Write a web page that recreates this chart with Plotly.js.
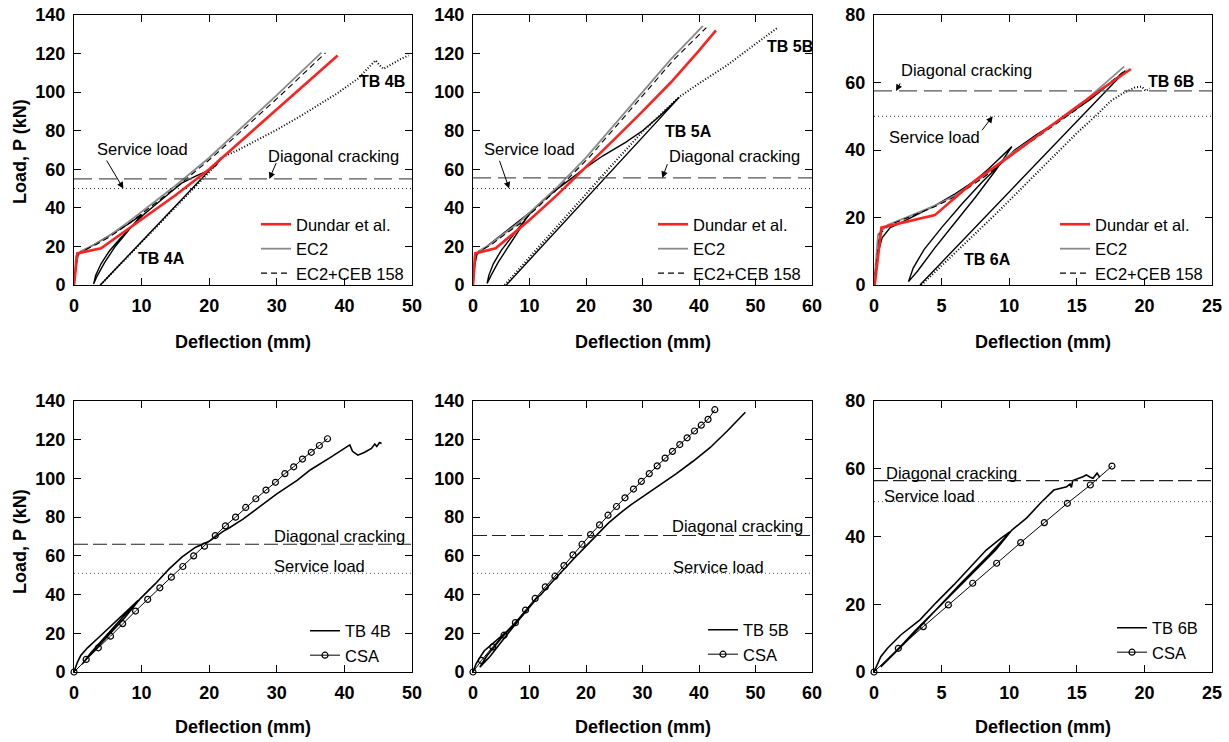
<!DOCTYPE html>
<html>
<head>
<meta charset="utf-8">
<script src="https://cdn.plot.ly/plotly-3.0.1.min.js"></script>
<style>html,body{margin:0;padding:0;background:#fff;}#chart{width:1229px;height:742px;}</style>
</head>
<body>
<div id="chart"></div>
<script>
// ---------- Panel 1 : TB 4 (x 0-50, y 0-140) ----------
const p1_dundar_x = [0, 0.5, 4, 10, 15, 20, 25, 30, 35, 39];
const p1_dundar_y = [0, 16.4, 19, 34, 46.5, 60, 75.5, 91, 106.5, 119];
const p1_ec2_x = [0, 0.3, 1, 3, 5, 8, 10, 15, 20, 25, 30, 36.6];
const p1_ec2_y = [0, 15, 17.5, 21, 25, 32.5, 38, 51.5, 66, 82, 98.5, 120.5];
const p1_ceb_x = [0, 0.4, 1.2, 3.3, 5.3, 8.4, 10.4, 15.4, 20.4, 25.5, 30.6, 37.2];
const p1_ceb_y = [0, 15, 17.5, 21, 25, 32.5, 38, 51.5, 66, 82, 98.5, 120.3];
const p1_tbA_x = [0, 0.3, 0.6, 2, 4, 6, 8, 10, 8, 6, 4.5, 3.4, 2.9, 3.2, 4, 5.2, 6.8, 8.5, 10.3, 12, 14, 16, 18, 20, 21, 21.8, 3.9];
const p1_tbA_y = [0, 10, 16, 19, 23, 27.5, 31.5, 36.5, 28, 19.5, 11.5, 4.5, 0.5, 5, 11, 17.5, 24, 30, 36.5, 41.5, 47.5, 53, 56.5, 59.5, 62, 66, 0];
const p1_tbB_x = [3.9, 8, 12, 16, 20, 21.8, 24, 27, 30, 33, 36, 39, 42, 44.6, 45.2, 45.8, 47, 48.5, 49.5];
const p1_tbB_y = [0, 15, 29.5, 44, 58.5, 66, 69.5, 75, 80.5, 86.5, 93, 99.5, 107, 116.5, 114, 112, 114.5, 117.5, 119];

// ---------- Panel 2 : TB 5 (x 0-60, y 0-140) ----------
const p2_dundar_x = [0, 0.4, 4, 10, 15, 20, 25, 30, 35, 40, 43];
const p2_dundar_y = [0, 16.4, 19, 33.7, 47, 61, 75.5, 90, 105, 121.5, 132];
const p2_ec2_x = [0, 0.3, 1, 3, 5, 8, 10, 15, 20, 25, 30, 35, 40.7];
const p2_ec2_y = [0, 15, 17.5, 21, 25.5, 32, 37.5, 51, 66, 83, 100, 117, 134.3];
const p2_ceb_x = [0, 0.4, 1.2, 3.3, 5.3, 8.4, 10.4, 15.4, 20.5, 25.5, 30.6, 35.6, 41.3];
const p2_ceb_y = [0, 15, 17.5, 21, 25.5, 32, 37.5, 51, 66, 83, 100, 117, 133.5];
const p2_tbA_x = [0, 0.3, 0.7, 2, 4, 6, 8, 10, 8.5, 6.5, 4.5, 3.2, 2.5, 2.8, 3.6, 5, 6.8, 8.6, 10.5, 12.5, 15, 17.5, 20, 23, 27, 30, 33, 36.5, 5.9];
const p2_tbA_y = [0, 10, 16, 19, 23.5, 28, 32.5, 37.5, 30, 21, 12, 5, 0.8, 5, 11, 18, 25, 31.5, 38.5, 44, 50, 55.5, 61, 67, 74, 80, 87.5, 97.3, 0];
const p2_tbB_x = [5.6, 10, 15, 20, 25, 30, 36.5, 40, 45, 50, 54];
const p2_tbB_y = [0, 14.5, 31, 47.5, 63.5, 79.5, 97.5, 104.5, 114, 125, 133.6];

// ---------- Panel 3 : TB 6 (x 0-25, y 0-80) ----------
const p3_dundar_x = [0.05, 0.55, 4.5, 7.5, 10, 12.5, 15, 17, 19];
const p3_dundar_y = [0, 17, 20.7, 31, 38, 45.5, 52.8, 58.5, 64];
const p3_ec2_x = [0, 0.3, 1, 2, 3, 4.5, 6, 8, 10, 12, 15, 18.5];
const p3_ec2_y = [0, 15, 17.8, 19.5, 21, 23.5, 26.5, 32, 38.5, 44, 52.5, 64.7];
const p3_ceb_x = [0, 0.4, 1.15, 2.15, 3.15, 4.65, 6.15, 8.15, 10.15, 12.15, 15.15, 18.7];
const p3_ceb_y = [0, 15, 17.8, 19.5, 21, 23.5, 26.5, 32, 38.5, 44, 52.5, 64];
const p3_tbA_x = [0, 0.2, 0.6, 1.2, 2, 3, 4.5, 6, 7.5, 8.5, 9.3, 10.2, 9, 7.5, 6, 4.5, 3.2, 2.55, 2.9, 3.7, 5, 6.5, 8, 9.5, 10.4, 12, 14, 16, 17.5, 18.6, 3.4];
const p3_tbA_y = [0, 8, 14, 17, 18.5, 20.5, 23.5, 27, 31, 34.5, 37.5, 41, 34, 26, 18.5, 11, 4, 1, 5, 10.5, 17, 24, 30.5, 36.5, 40, 44.5, 49.5, 55, 60, 63.5, 0];
const p3_tbB_x = [3.5, 6, 9, 12, 15, 16.5, 17.5, 18.5, 19.3, 19.8, 20.1, 20.4];
const p3_tbB_y = [0, 9.5, 21, 33, 45, 50.5, 54.5, 57, 58.5, 58.8, 57.5, 58.2];

// ---------- Panel 4 : TB 4B vs CSA (x 0-50, y 0-140) ----------
const p4_tb_x = [0, 0.5, 1, 2, 4, 6, 8, 9.5, 7, 4.5, 2.5, 1.2, 2, 3.5, 5.5, 7.5, 9.7, 12, 14, 16, 18, 19, 20, 22, 23, 25, 28, 30, 33, 35, 38, 40, 40.8, 41.2, 42, 43, 44, 44.5, 44.8, 45.2, 45.5];
const p4_tb_y = [0, 5, 8.5, 12.5, 19, 25.5, 32, 37, 27.5, 18, 10, 4, 7.5, 13, 20.5, 28, 37.5, 45.5, 53, 59.5, 64.5, 66, 67.5, 72.5, 74.5, 79, 87, 92, 99, 104.5, 111, 115.5, 117.3, 114, 112, 113.5, 115.5, 117.8, 116.5, 118.5, 118];
const p4_csa_x = [0, 1.8, 3.6, 5.4, 7.2, 9.1, 10.9, 12.7, 14.4, 16.1, 17.7, 19.3, 20.9, 22.4, 23.9, 25.4, 26.9, 28.4, 29.8, 31.2, 32.5, 33.8, 35.1, 36.3, 37.5];
const p4_csa_y = [0, 6.5, 12.5, 18.5, 25, 31.5, 37.5, 43.5, 49, 54.5, 60, 65, 70.5, 75.5, 80, 85, 89.5, 94, 98, 102.5, 106, 110, 113.5, 117, 120.5];

// ---------- Panel 5 : TB 5B vs CSA (x 0-60, y 0-140) ----------
const p5_tb_x = [0, 0.5, 1, 2, 4, 6, 8, 11, 8, 5, 3, 1.2, 2.5, 5, 7.5, 9.5, 11.2, 12, 14, 16, 18, 20, 22, 24, 26, 28, 30, 33, 36, 39, 42, 45, 48.2];
const p5_tb_y = [0, 4, 6.5, 11, 16, 21, 27, 37, 26.5, 15.5, 8, 2.5, 8.5, 17.5, 25.5, 32, 38, 40, 46.5, 53, 59, 65, 71, 77, 82, 86.5, 90.5, 96.5, 102.5, 109, 116, 124.5, 134.2];
const p5_csa_x = [0, 1.5, 3.5, 5.5, 7.5, 9.3, 11.0, 12.8, 14.5, 16.1, 17.7, 19.3, 20.8, 22.4, 23.9, 25.4, 26.9, 28.4, 29.8, 31.2, 32.6, 34.0, 35.3, 36.6, 37.9, 39.2, 40.4, 41.6, 42.8];
const p5_csa_y = [0, 6, 13, 19, 25.5, 32, 38, 44, 49.5, 55, 60.5, 66, 71, 76, 81, 85.5, 90, 94.5, 98.5, 102.5, 106.5, 110.5, 114, 117.5, 121, 124.5, 127.5, 130.5, 135.5];

// ---------- Panel 6 : TB 6B vs CSA (x 0-25, y 0-80) ----------
const p6_tb_x = [0, 0.5, 1, 2, 3.4, 4.6, 5.9, 7.1, 8.3, 9.4, 10.1, 8.5, 6.5, 4.5, 2.5, 1, 0.5, 1.5, 3, 5, 7, 9, 10.2, 11.3, 12.3, 13.3, 14.25, 14.5, 14.6, 14.7, 15.5, 15.7, 16, 16.2, 16.5, 16.7];
const p6_tb_y = [0, 4.5, 7, 11, 15.4, 20.5, 25.7, 31, 36, 39.5, 41.5, 34.5, 26.5, 18, 9.5, 3.5, 1.5, 5.5, 12, 20, 28, 36, 41.9, 45.5, 49.8, 53.7, 54.7, 55.5, 54.5, 56.5, 57.7, 58.2, 57.5, 57.2, 58.7, 57.5];
const p6_csa_x = [0, 1.8, 3.65, 5.5, 7.3, 9.07, 10.85, 12.6, 14.3, 16.0, 17.6];
const p6_csa_y = [0, 7, 13.4, 19.8, 26.2, 32.1, 38.2, 44.1, 49.8, 55.2, 60.8];

// ---------- reference load levels [diagonal cracking, service load] ----------
const refDiagonal = [55, 55.5, 57.5, 66, 70.5, 56.5];
const refService = [50, 50, 50, 51, 51, 50.3];

// ---------- axis settings ----------
const xRanges = [[0, 50], [0, 60], [0, 25], [0, 50], [0, 60], [0, 25]];
const yRanges = [[0, 140], [0, 140], [0, 80], [0, 140], [0, 140], [0, 80]];
const xTickStep = [10, 10, 5, 10, 10, 5];
const yTickStep = [20, 20, 20, 20, 20, 20];

const FONT = 'Liberation Sans, Arial, Helvetica, sans-serif';
const RED = '#ff2020', GREY = '#8a8a8a';

const traces = [];
function add(t) { traces.push(t); }
const sfx = ['', '2', '3', '4', '5', '6'];

function topPanel(i, d) {
  const xa = 'x' + sfx[i], ya = 'y' + sfx[i], lg = 'legend' + sfx[i];
  add({x: d.tbAx, y: d.tbAy, xaxis: xa, yaxis: ya, mode: 'lines', line: {color: '#000', width: 1.4}, showlegend: false, hoverinfo: 'skip'});
  add({x: d.tbBx, y: d.tbBy, xaxis: xa, yaxis: ya, mode: 'lines', line: {color: '#000', width: 2, dash: '1px,2px'}, showlegend: false, hoverinfo: 'skip'});
  add({x: d.ec2x, y: d.ec2y, xaxis: xa, yaxis: ya, mode: 'lines', name: 'EC2', legend: lg, legendrank: 2, line: {color: GREY, width: 1.8}});
  add({x: d.cebx, y: d.ceby, xaxis: xa, yaxis: ya, mode: 'lines', name: 'EC2+CEB 158', legend: lg, legendrank: 3, line: {color: '#000', width: 1.1, dash: '6px,4px'}});
  add({x: d.dx, y: d.dy, xaxis: xa, yaxis: ya, mode: 'lines', name: 'Dundar et al.', legend: lg, legendrank: 1, line: {color: RED, width: 2.6}});
}
topPanel(0, {dx: p1_dundar_x, dy: p1_dundar_y, ec2x: p1_ec2_x, ec2y: p1_ec2_y, cebx: p1_ceb_x, ceby: p1_ceb_y, tbAx: p1_tbA_x, tbAy: p1_tbA_y, tbBx: p1_tbB_x, tbBy: p1_tbB_y});
topPanel(1, {dx: p2_dundar_x, dy: p2_dundar_y, ec2x: p2_ec2_x, ec2y: p2_ec2_y, cebx: p2_ceb_x, ceby: p2_ceb_y, tbAx: p2_tbA_x, tbAy: p2_tbA_y, tbBx: p2_tbB_x, tbBy: p2_tbB_y});
topPanel(2, {dx: p3_dundar_x, dy: p3_dundar_y, ec2x: p3_ec2_x, ec2y: p3_ec2_y, cebx: p3_ceb_x, ceby: p3_ceb_y, tbAx: p3_tbA_x, tbAy: p3_tbA_y, tbBx: p3_tbB_x, tbBy: p3_tbB_y});

function bottomPanel(i, name, tx, ty, cx, cy) {
  const xa = 'x' + sfx[i], ya = 'y' + sfx[i], lg = 'legend' + sfx[i];
  add({x: tx, y: ty, xaxis: xa, yaxis: ya, mode: 'lines', name: name, legend: lg, legendrank: 1, line: {color: '#000', width: 1.6}});
  add({x: cx, y: cy, xaxis: xa, yaxis: ya, mode: 'lines+markers', name: 'CSA', legend: lg, legendrank: 2, cliponaxis: false,
       line: {color: '#000', width: 1}, marker: {symbol: 'circle-open', size: 6, color: '#000', line: {width: 1.2, color: '#000'}}});
}
bottomPanel(3, 'TB 4B', p4_tb_x, p4_tb_y, p4_csa_x, p4_csa_y);
bottomPanel(4, 'TB 5B', p5_tb_x, p5_tb_y, p5_csa_x, p5_csa_y);
bottomPanel(5, 'TB 6B', p6_tb_x, p6_tb_y, p6_csa_x, p6_csa_y);

// ---------- layout ----------
const W = 1229, H = 742;
const colDom = [[74 / W, 412 / W], [473 / W, 812 / W], [874 / W, 1212 / W]];
const rowDom = [[1 - 285 / H, 1 - 15 / H], [1 - 672 / H, 1 - 401 / H]];

const layout = {
  width: W, height: H,
  margin: {l: 0, r: 0, t: 0, b: 0},
  paper_bgcolor: '#fff', plot_bgcolor: '#fff',
  font: {family: FONT, color: '#000'},
  showlegend: true,
  shapes: [], annotations: []
};

for (let i = 0; i < 6; i++) {
  const col = i % 3, row = Math.floor(i / 3);
  const tickfont = {family: FONT, size: 18, weight: 'bold', color: '#000'};
  const common = {ticks: 'inside', ticklen: 7, tickwidth: 1, tickcolor: '#000', mirror: 'ticks', showline: true,
                  linecolor: '#000', linewidth: 1, showgrid: false, zeroline: false, tickfont: tickfont, tick0: 0};
  layout['xaxis' + sfx[i]] = Object.assign({}, common, {domain: colDom[col], range: xRanges[i], dtick: xTickStep[i], anchor: 'y' + sfx[i], ticklabelstandoff: 4});
  layout['yaxis' + sfx[i]] = Object.assign({}, common, {domain: rowDom[row], range: yRanges[i], dtick: yTickStep[i], anchor: 'x' + sfx[i], ticklabelstandoff: 4});

  // reference load lines
  const isTop = row === 0;
  layout.shapes.push({type: 'line', xref: 'x' + sfx[i] + ' domain', yref: 'y' + sfx[i], x0: 0, x1: 1, y0: refDiagonal[i], y1: refDiagonal[i],
                      line: {color: isTop ? '#555' : '#222', width: isTop ? 1.3 : 1.1, dash: isTop ? '18px,7px' : '14px,5px'}});
  layout.shapes.push({type: 'line', xref: 'x' + sfx[i] + ' domain', yref: 'y' + sfx[i], x0: 0, x1: 1, y0: refService[i], y1: refService[i],
                      line: {color: isTop ? '#222' : '#555', width: 1, dash: '1px,3px'}});

  // x axis titles
  layout.annotations.push({xref: 'paper', yref: 'paper', x: (colDom[col][0] + colDom[col][1]) / 2, y: row === 0 ? 1 - 342 / H : 1 - 727 / H,
                           text: 'Deflection (mm)', showarrow: false, xanchor: 'center', yanchor: 'middle',
                           font: {family: FONT, size: 18, weight: 'bold', color: '#000'}});
}
// y axis titles
[152, 542].forEach(function (py) {
  layout.annotations.push({xref: 'paper', yref: 'paper', x: 20 / W, y: 1 - py / H, text: 'Load, P (kN)', textangle: -90,
                           showarrow: false, xanchor: 'center', yanchor: 'middle', font: {family: FONT, size: 18, weight: 'bold', color: '#000'}});
});

// legends
const legPos = [[256, 249], [653, 249], [1055, 249], [305, 643], [703, 642], [1112, 640]];
for (let i = 0; i < 6; i++) {
  layout['legend' + sfx[i]] = {x: legPos[i][0] / W, y: 1 - legPos[i][1] / H, xanchor: 'left', yanchor: 'middle', xref: 'paper', yref: 'paper',
    bgcolor: 'rgba(0,0,0,0)', borderwidth: 0, tracegroupgap: 0, traceorder: 'normal',
    font: {family: FONT, size: 16.5, color: '#000'}};
}

// text labels and arrows
const TXT = {family: FONT, size: 16.5, color: '#000'};
const TXTB = {family: FONT, size: 16, weight: 'bold', color: '#000'};
function label(i, x, y, text, font) {
  layout.annotations.push({xref: 'x' + sfx[i], yref: 'y' + sfx[i], x: x, y: y, text: text, showarrow: false, font: font || TXT, xanchor: 'center', yanchor: 'middle'});
}
function arrow(i, x, y, ax, ay) {
  layout.annotations.push({xref: 'x' + sfx[i], yref: 'y' + sfx[i], axref: 'x' + sfx[i], ayref: 'y' + sfx[i], x: x, y: y, ax: ax, ay: ay, text: '',
    showarrow: true, arrowhead: 2, arrowsize: 1.3, arrowwidth: 1, arrowcolor: '#000', standoff: 0, startstandoff: 0});
}
// panel 1
label(0, 10.2, 70.5, 'Service load'); arrow(0, 7.3, 50, 4.7, 65.3);
label(0, 38.4, 67, 'Diagonal cracking'); arrow(0, 28.9, 55, 30, 64);
label(0, 45.5, 105.4, 'TB 4B', TXTB); label(0, 13, 13.8, 'TB 4A', TXTB);
// panel 2
label(1, 10.0, 70.4, 'Service load'); arrow(1, 6.4, 50, 4.6, 65.2);
label(1, 46.2, 66.9, 'Diagonal cracking'); arrow(1, 33.5, 55.5, 34.5, 63.4);
label(1, 38.1, 79.5, 'TB 5A', TXTB); label(1, 56.1, 123.6, 'TB 5B', TXTB);
// panel 3
label(2, 6.86, 63.7, 'Diagonal cracking'); arrow(2, 1.63, 57.5, 2.0, 60.2);
label(2, 4.5, 43.8, 'Service load'); arrow(2, 8.78, 50, 7.9, 45.4);
label(2, 8.4, 7.6, 'TB 6A', TXTB); label(2, 22.0, 60.4, 'TB 6B', TXTB);
// panel 4-6
label(3, 39.3, 70.2, 'Diagonal cracking'); label(3, 36.3, 54.8, 'Service load');
label(4, 46.9, 75.4, 'Diagonal cracking'); label(4, 43.4, 54.4, 'Service load');
label(5, 5.75, 58.7, 'Diagonal cracking'); label(5, 4.14, 52, 'Service load');

Plotly.newPlot('chart', traces, layout, {staticPlot: true, displayModeBar: false});
</script>
</body>
</html>
